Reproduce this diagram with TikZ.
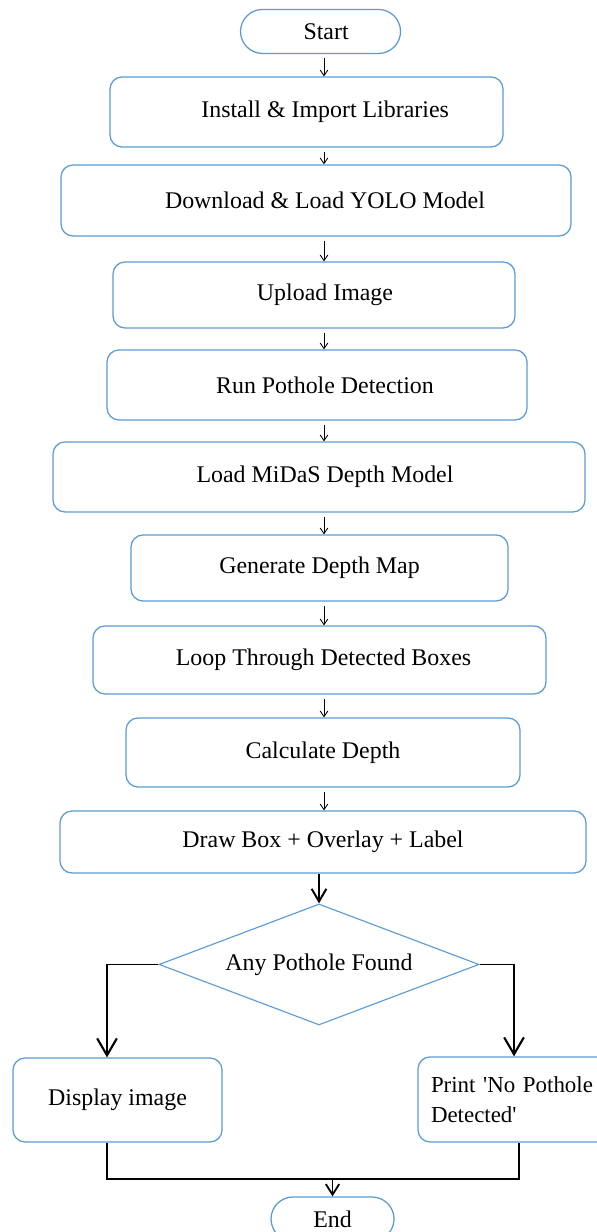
\documentclass[tikz,border=0pt]{standalone}
\usepackage{fontspec}
\setmainfont{Liberation Serif}
\usetikzlibrary{shapes.geometric,arrows.meta}
\definecolor{flowblue}{HTML}{5B9BD5}
\tikzset{
  terminal/.style={draw=flowblue, line width=0.9pt, rounded corners=0.55cm, minimum height=1.1cm, inner sep=0pt},
  stepbox/.style={draw=flowblue, line width=0.9pt, rounded corners=0.3cm, inner sep=0pt},
  decision/.style={draw=flowblue, line width=0.8pt, diamond, aspect=2.6, inner sep=0pt, minimum width=8cm, minimum height=3.025cm},
  steptext/.style={font=\fontsize{17}{21.5}\selectfont},
  thinflow/.style={draw=black, line width=0.6pt, -{Straight Barb[length=4pt,width=5.5pt]}, shorten <=3pt},
  boldflow/.style={draw=black, line width=1.4pt, -{Straight Barb[length=9pt,width=10.5pt]}},
  branchflow/.style={draw=black, line width=1.5pt, -{Straight Barb[length=12pt,width=14pt]}},
  endflow/.style={draw=black, line width=1.3pt, -{Straight Barb[length=7.5pt,width=9.5pt]}},
  joinline/.style={draw=black, line width=0.8pt},
}
\begin{document}
\begin{tikzpicture}
\useasboundingbox (0,0) rectangle (14.925,30.8);
% steps
\node[terminal, steptext, minimum width=4.0cm] (start) at (8.013,30.013) {\hspace*{0.28cm}Start};
\node[stepbox, steptext, minimum width=9.825cm, minimum height=1.75cm] (install) at (7.663,28.0) {\hspace*{0.93cm}Install \& Import Libraries};
\node[stepbox, steptext, minimum width=12.75cm, minimum height=1.775cm] (yolo) at (7.9,25.788) {\hspace*{0.45cm}Download \& Load YOLO Model};
\node[stepbox, steptext, minimum width=10.05cm, minimum height=1.65cm] (upload) at (7.85,23.425) {\hspace*{0.55cm}Upload Image};
\node[stepbox, steptext, minimum width=10.5cm, minimum height=1.75cm] (detect) at (7.925,21.175) {\hspace*{0.4cm}Run Pothole Detection};
\node[stepbox, steptext, minimum width=13.3cm, minimum height=1.75cm] (midas) at (7.975,18.875) {\hspace*{0.3cm}Load MiDaS Depth Model};
\node[stepbox, steptext, minimum width=9.425cm, minimum height=1.65cm] (depthmap) at (7.988,16.6) {Generate Depth Map};
\node[stepbox, steptext, minimum width=11.325cm, minimum height=1.7cm] (loop) at (7.988,14.3) {\hspace*{0.2cm}Loop Through Detected Boxes};
\node[stepbox, steptext, minimum width=9.85cm, minimum height=1.725cm] (calc) at (8.075,11.988) {Calculate Depth};
\node[stepbox, steptext, minimum width=13.15cm, minimum height=1.55cm] (overlay) at (8.075,9.75) {Draw Box + Overlay + Label};
\node[decision, steptext] (check) at (7.975,6.688) {Any Pothole Found};
\node[stepbox, steptext, minimum width=5.225cm, minimum height=2.1cm] (display) at (2.938,3.3) {Display image};
\node[stepbox, font=\fontsize{16.3}{21.5}\selectfont, minimum width=5.15cm, minimum height=2.125cm, text width=4.5cm, align=left, inner xsep=0.3cm] (noprint) at (13.025,3.313) {Print \textquotesingle No Pothole\\Detected\textquotesingle};
\node[terminal, steptext, minimum width=3.075cm] (stop) at (8.313,0.325) {End};
% columns
\coordinate (spine) at (8.1,0);
\coordinate (lcol) at (2.675,0);
\coordinate (rcol) at (12.85,0);
\coordinate (rjoin) at (12.975,0);
\coordinate (merge) at (8.313,1.325);
% flow
\draw[thinflow] (start.south -| spine) -- (install.north -| spine);
\draw[thinflow] (install.south -| spine) -- (yolo.north -| spine);
\draw[thinflow] (yolo.south -| spine) -- (upload.north -| spine);
\draw[thinflow] (upload.south -| spine) -- (detect.north -| spine);
\draw[thinflow] (detect.south -| spine) -- (midas.north -| spine);
\draw[thinflow] (midas.south -| spine) -- (depthmap.north -| spine);
\draw[thinflow] (depthmap.south -| spine) -- (loop.north -| spine);
\draw[thinflow] (loop.south -| spine) -- (calc.north -| spine);
\draw[thinflow] (calc.south -| spine) -- (overlay.north -| spine);
\draw[boldflow] (overlay.south -| check) -- (check.north);
\draw[joinline] (check.west) -- (check.west -| lcol);
\draw[branchflow] (check.west -| lcol) -- (display.north -| lcol);
\draw[joinline] (check.east) -- (check.east -| rcol);
\draw[branchflow] (check.east -| rcol) -- (noprint.north -| rcol);
\draw[joinline] (display.south -| lcol) |- (merge) -| (noprint.south -| rjoin);
\draw[endflow] (merge) -- (stop);
\end{tikzpicture}
\end{document}
